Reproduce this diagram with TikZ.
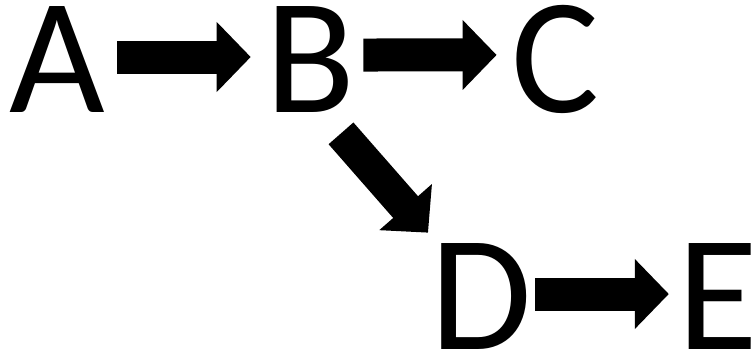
\documentclass[tikz,border=0pt]{standalone}
\usepackage{fontspec}
\setmainfont{Carlito}
\usetikzlibrary{arrows.meta,calc}
\tikzset{
   letter/.style={inner sep=0pt, anchor=base, font=\fontsize{94}{100}\selectfont},
   bigarrow/.style={line width=0.66cm, -{Triangle[length=0.68cm, width=1.36cm]}},
}
\begin{document}
\begin{tikzpicture}
   \useasboundingbox (0, 0) rectangle (15.06, 7.1);
   \node[letter] (A) at (1.14, 4.84) {A};
   \node[letter] (B) at (6.20, 4.84) {B};
   \node[letter] (C) at (11.12, 4.84) {C};
   \node[letter] (D) at (9.62, 0.10) {D};
   \node[letter] (E) at (14.36, 0.10) {E};
   \draw[bigarrow] ([xshift=0.245cm, yshift=0.06cm]A.east) -- ([xshift=-0.28cm, yshift=0.06cm]B.west);
   \draw[bigarrow] ([xshift=0.16cm, yshift=0.1cm]B.east) -- ([xshift=-0.30cm, yshift=0.1cm]C.west);
   \draw[bigarrow] ([xshift=0.06cm, yshift=0.06cm]D.east) -- ([xshift=-0.17cm, yshift=0.06cm]E.west);
   \draw[bigarrow] ($(B.south)+(0.62, -0.4)$) -- ($(D.north)+(-1.06, 0.22)$);
\end{tikzpicture}
\end{document}
